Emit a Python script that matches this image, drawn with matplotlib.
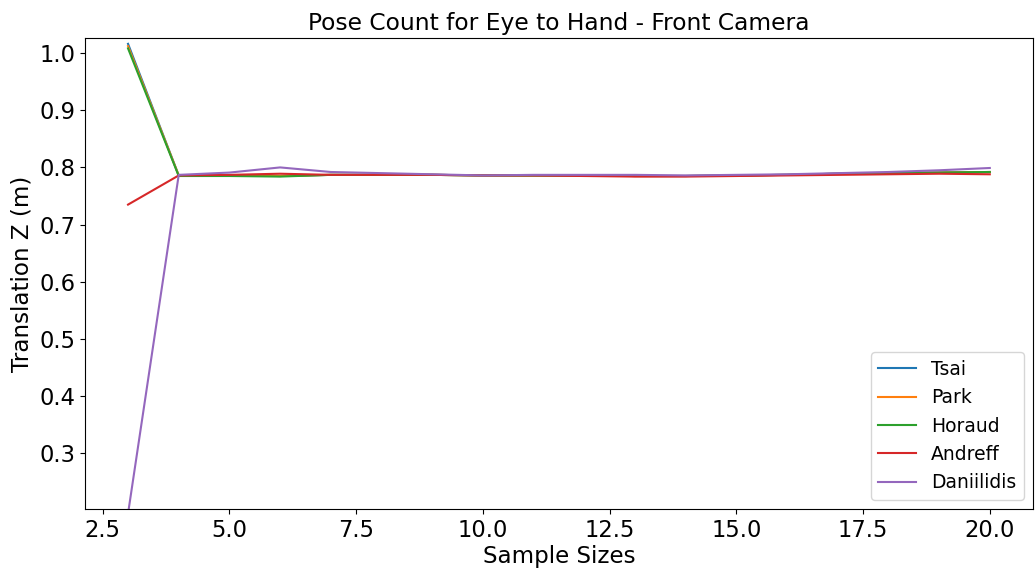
import matplotlib
matplotlib.use("Agg")
import matplotlib.pyplot as plt

sample_sizes = list(range(3, 21))

tsai = [1.016, 0.786, 0.786, 0.785, 0.787, 0.787, 0.787, 0.786, 0.786, 0.786, 0.785, 0.785, 0.786, 0.787, 0.789, 0.790, 0.791, 0.792]
park = [1.012, 0.786, 0.786, 0.785, 0.787, 0.787, 0.787, 0.786, 0.786, 0.786, 0.785, 0.785, 0.786, 0.787, 0.789, 0.790, 0.791, 0.792]
horaud = [1.008, 0.785, 0.785, 0.784, 0.787, 0.787, 0.787, 0.786, 0.786, 0.786, 0.785, 0.785, 0.786, 0.787, 0.789, 0.790, 0.791, 0.792]
andreff = [0.735, 0.786, 0.787, 0.789, 0.787, 0.787, 0.787, 0.786, 0.786, 0.785, 0.784, 0.784, 0.785, 0.786, 0.787, 0.788, 0.789, 0.788]
daniilidis = [0.195, 0.787, 0.791, 0.800, 0.792, 0.790, 0.788, 0.786, 0.787, 0.787, 0.787, 0.786, 0.787, 0.788, 0.790, 0.792, 0.795, 0.799]

series = [("Tsai", tsai), ("Park", park), ("Horaud", horaud),
          ("Andreff", andreff), ("Daniilidis", daniilidis)]

fig, ax = plt.subplots(figsize=(10.36, 5.69), dpi=100)
fig.subplots_adjust(left=0.082, right=0.997, top=0.933, bottom=0.105)

for name, vals in series:
    ax.plot(sample_sizes, vals, label=name, linewidth=1.5)

ax.set_ylim(0.2025, 1.026)
ax.set_title("Pose Count for Eye to Hand - Front Camera", fontsize=16.8)
ax.set_xlabel("Sample Sizes", fontsize=16.6, labelpad=2)
ax.set_ylabel("Translation Z (m)", fontsize=16.6)
ax.tick_params(axis="both", labelsize=16.3)
ax.legend(loc="lower right", fontsize=13.5)

fig.savefig("out.png", dpi=100)
